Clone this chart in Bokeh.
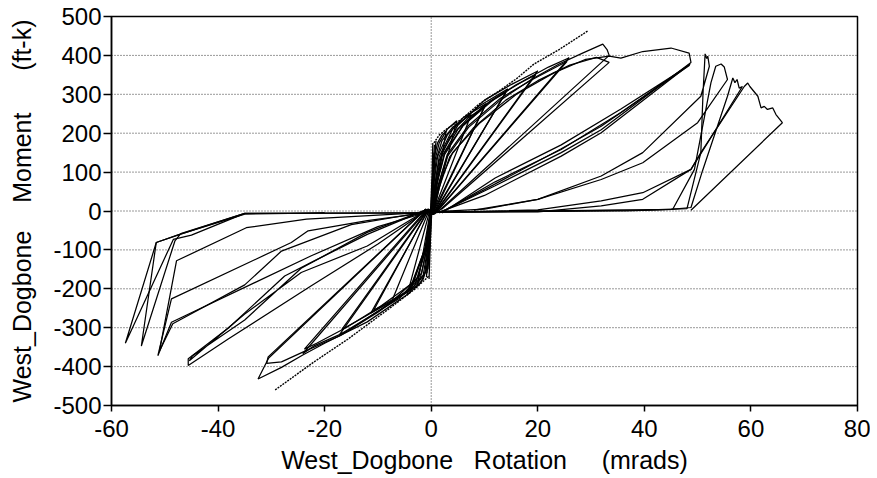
from bokeh.plotting import figure
from bokeh.embed import file_html
from bokeh.resources import INLINE
from bokeh.models import FixedTicker, Range1d, CustomJSTickFormatter

# ---------------- data (rotation in mrads, moment in ft-k) ----------------
x_ticks = [-60, -40, -20, 0, 20, 40, 60, 80]
y_ticks = [-500, -400, -300, -200, -100, 0, 100, 200, 300, 400, 500]
grid_y = [-400, -300, -200, -100, 0, 100, 200, 300, 400]

# small elastic cycles near the origin
loop_e1 = [(-0.6, -150), (-0.3, -70), (0.0, 0), (0.3, 90), (0.5, 150), (0.3, 100), (0.0, 20), (-0.3, -60), (-0.6, -150)]
loop_e2 = [(-0.9, -170), (-0.5, -110), (-0.1, -10), (0.2, 60), (0.6, 170), (0.4, 120), (0.1, 40), (-0.2, -40), (-0.9, -170)]
loop_e3 = [(-0.8, -160), (-0.2, -90), (0.0, -20), (0.1, 60), (0.3, 175), (0.2, 110), (-0.1, 0), (-0.3, -100), (-0.8, -160)]
loop_e4 = [(-0.4, -175), (-0.2, -80), (0.2, 20), (0.5, 110), (0.9, 180), (0.6, 140), (0.1, 30), (-0.4, -175)]

# positive half-cycles of growing amplitude
loop_p1 = [(0.0, -10), (0.3, 80), (0.6, 140), (1.2, 175), (2.0, 195), (2.8, 205), (0.2, -5)]
loop_p2 = [(0.0, -10), (0.3, 60), (0.7, 130), (1.5, 175), (3.0, 210), (4.8, 232), (0.3, -5)]
loop_p3 = [(0.1, -10), (0.4, 60), (0.9, 130), (2.0, 180), (4.0, 215), (7.5, 248), (0.3, -5)]
loop_p4 = [(0.1, -10), (0.5, 70), (1.2, 140), (3.0, 195), (6.0, 240), (10.3, 276), (0.3, -5)]
loop_p4b = [(0.1, -10), (0.6, 60), (1.5, 130), (3.5, 190), (7.0, 240), (10.0, 268), (0.4, -8)]
loop_p5 = [(0.2, -10), (0.6, 60), (1.5, 140), (4.0, 210), (9.0, 270), (14.4, 314), (0.4, -8)]
loop_p5b = [(0.2, -10), (0.8, 60), (2.0, 140), (5.0, 210), (10.0, 272), (14.0, 305), (0.5, -8)]
loop_p6 = [(0.2, -10), (0.8, 70), (2.0, 150), (5.0, 220), (10.0, 285), (15.0, 325), (20.0, 360), (0.5, -8)]
loop_p6b = [(0.3, -10), (1.0, 65), (2.5, 145), (6.0, 220), (11.0, 282), (16.0, 325), (19.6, 350), (0.6, -8)]
loop_p7 = [(0.3, -10), (1.0, 70), (2.5, 150), (6.0, 220), (12.0, 290), (18.0, 340), (22.0, 370), (25.9, 394), (0.6, -8)]
loop_p7b = [(0.3, -10), (1.3, 65), (3.0, 145), (7.0, 220), (13.0, 290), (19.0, 338), (25.5, 385), (0.8, -6)]
loop_p8 = [(0.3, -10), (1.2, 60), (3.0, 140), (7.0, 215), (13.0, 285), (19.0, 340), (24.0, 378), (28.4, 406), (32.2, 429), (33.0, 415), (33.4, 400), (1.0, -5)]
loop_p8b = [(0.4, -10), (1.5, 60), (3.5, 140), (8.0, 215), (14.0, 285), (20.0, 335), (26.0, 375), (31.0, 395), (33.4, 382), (1.9, 4)]

# large positive cycles
loop_b1 = [(0.4, -10), (1.5, 70), (4.0, 150), (9.0, 225), (16.0, 300), (23.0, 355), (29.0, 390), (33.4, 398),
           (35.6, 393), (39.7, 410), (45.0, 419), (48.4, 406), (48.75, 382), (31.9, 209), (24.4, 150), (12.0, 65), (2.0, -2)]
loop_b1b = [(2.0, -3), (12.0, 75), (24.4, 158), (35.6, 253), (48.6, 378), (31.9, 201), (24.4, 141), (10.0, 40), (1.5, -3)]
loop_b1c = [(2.0, -5), (12.0, 85), (24.4, 170), (35.6, 262), (48.5, 375), (31.9, 218), (24.4, 160), (10.0, 55), (1.5, -5)]
loop_b2 = [(0.0, -3), (20.0, -2), (31.9, 13), (39.7, 30), (48.75, 107), (50.6, 150), (51.0, 300), (51.4, 404),
           (51.7, 392), (51.9, 398), (52.2, 372), (50.6, 295), (39.7, 150), (31.9, 90), (20.0, 30), (10.0, 5), (0.0, -2)]
loop_b3 = [(0.0, -3), (36.6, 0), (45.3, 4), (49.4, 107), (52.5, 330), (53.4, 372), (54.4, 378), (55.0, 370),
           (55.6, 338), (50.0, 227), (39.7, 124), (31.9, 81), (20.0, 30), (8.0, 2)]
loop_b4 = [(0.0, -3), (45.0, 4), (48.75, 9), (50.9, 103), (55.6, 295), (56.6, 342), (57.0, 330), (57.4, 338),
           (57.8, 316), (58.4, 320), (53.0, 200), (48.75, 107), (39.7, 47), (31.9, 26), (20.0, 3), (5.0, -2)]
loop_b5 = [(0.0, -3), (40.0, 2), (48.0, 6), (50.6, 150), (58.75, 320), (59.4, 329), (59.8, 320), (61.3, 295),
           (61.9, 265), (62.5, 269), (63.1, 261), (64.1, 265), (64.7, 248), (65.9, 227), (48.75, 2)]

# negative half-cycles of growing amplitude
loop_n1 = [(0.0, 10), (-0.3, -80), (-0.7, -140), (-1.5, -175), (-2.6, -192), (-0.1, 5)]
loop_n2 = [(0.0, 10), (-0.4, -80), (-0.9, -150), (-2.0, -185), (-4.5, -215), (-0.2, 5)]
loop_n3 = [(0.0, 10), (-0.5, -80), (-1.2, -160), (-3.0, -195), (-7.5, -235), (-0.3, 5)]
loop_n4 = [(0.0, 10), (-0.6, -90), (-1.5, -165), (-4.0, -205), (-11.3, -262), (-0.4, 5)]
loop_n4b = [(0.0, 10), (-0.7, -85), (-1.8, -160), (-5.0, -210), (-10.8, -255), (-0.5, 5)]
loop_n5 = [(0.0, 10), (-0.7, -90), (-2.0, -170), (-6.0, -225), (-12.0, -275), (-17.2, -318), (-0.5, 5)]
loop_n5b = [(0.0, 10), (-0.9, -90), (-2.5, -170), (-7.0, -228), (-12.5, -272), (-16.8, -305), (-0.6, 5)]
loop_n6 = [(0.0, 10), (-0.8, -90), (-3.1, -192), (-9.4, -252), (-15.6, -308), (-21.9, -346), (-24.1, -367), (-0.6, 5)]
loop_n6b = [(0.0, 10), (-1.0, -90), (-3.5, -185), (-9.5, -245), (-16.0, -300), (-21.5, -340), (-23.8, -355), (-0.8, 5)]
loop_n7 = [(0.0, 10), (-1.0, -90), (-4.0, -200), (-10.0, -260), (-17.0, -320), (-24.0, -362), (-28.1, -388),
           (-30.9, -392), (-30.6, -375), (-1.0, 5)]
loop_n8 = [(0.0, 10), (-1.2, -100), (-4.0, -210), (-12.0, -285), (-20.0, -340), (-24.1, -370), (-28.1, -402),
           (-32.5, -432), (-30.5, -378), (-1.0, 5)]

# large negative cycles
loop_nb1 = [(-0.5, 5), (-10.0, -85), (-22.5, -192), (-38.1, -329), (-45.6, -397), (-45.6, -380), (-38.0, -300),
            (-27.5, -167), (-22.5, -132), (-12.0, -60), (-1.0, 3)]
loop_nb1b = [(-0.5, 5), (-12.0, -90), (-24.4, -158), (-35.0, -265), (-45.4, -385), (-44.8, -372), (-35.0, -280),
             (-24.4, -147), (-12.0, -55), (-1.0, 3)]
loop_nb2 = [(0.0, -3), (-12.0, -25), (-23.1, -51), (-26.25, -81), (-48.75, -226), (-51.3, -372), (-48.75, -286),
            (-22.5, -115), (-10.0, -40), (0.0, 0)]
loop_nb3 = [(0.0, -3), (-23.4, -21), (-34.7, -43), (-47.8, -128), (-51.0, -360), (-48.5, -290), (-35.0, -190),
            (-28.1, -103), (-15.0, -35), (0.0, 0)]
loop_nb4 = [(0.0, -5), (-35.0, -6), (-47.0, -58), (-48.1, -77), (-54.4, -347), (-51.6, -81), (-47.2, -60),
            (-35.0, -8), (-20.0, -5)]
loop_nb5 = [(0.0, -5), (-35.0, -6), (-47.2, -60), (-51.6, -81), (-57.4, -340), (-48.4, -73), (-45.0, -62),
            (-35.0, -6), (0.0, -5)]

# dotted envelopes
env_pos = [(0.5, 175), (1.5, 195), (3.0, 212), (5.6, 235), (9.0, 275), (13.1, 312), (16.0, 340), (19.3, 378), (24.0, 415), (29.4, 463)]
env_neg = [(-0.5, -168), (-3.0, -200), (-7.5, -247), (-15.6, -329), (-22.0, -388), (-29.4, -461)]

loops = [loop_e1, loop_e2, loop_e3, loop_e4,
         loop_p1, loop_p2, loop_p3, loop_p4, loop_p4b, loop_p5, loop_p5b, loop_p6, loop_p6b,
         loop_p7, loop_p7b, loop_p8, loop_p8b,
         loop_b1, loop_b1b, loop_b1c, loop_b2, loop_b3, loop_b4, loop_b5,
         loop_n1, loop_n2, loop_n3, loop_n4, loop_n4b, loop_n5, loop_n5b, loop_n6, loop_n6b, loop_n7, loop_n8,
         loop_nb1, loop_nb1b, loop_nb2, loop_nb3, loop_nb4, loop_nb5]

FONT = "Liberation Sans"
NB = "\u00a0"

p = figure(width=870, height=476, output_backend="svg", toolbar_location=None,
           x_range=Range1d(-60, 80), y_range=Range1d(-500, 500),
           min_border_left=111, min_border_right=13, min_border_top=16, min_border_bottom=70)
p.background_fill_color = "white"
p.border_fill_color = "white"
p.outline_line_color = "black"
p.outline_line_width = 1.5

p.xgrid.visible = False
p.ygrid.visible = False

# horizontal dotted grid lines and vertical zero line
for gy in grid_y:
    p.line(x=[-60, 80], y=[gy, gy], line_color="#333333", line_width=1, line_dash="1 2")
p.line(x=[0, 0], y=[-500, 500], line_color="#333333", line_width=1, line_dash="1 2")

xs = [[pt[0] for pt in lp] for lp in loops]
ys = [[pt[1] for pt in lp] for lp in loops]
p.multi_line(xs=xs, ys=ys, line_color="black", line_width=1.25)

for env in (env_pos, env_neg):
    p.line(x=[pt[0] for pt in env], y=[pt[1] for pt in env], line_color="black", line_width=1.4, line_dash="2 1")

fmt = CustomJSTickFormatter(code="return String(tick);")
for ax in (p.xaxis[0], p.yaxis[0]):
    ax.axis_line_color = "black"
    ax.axis_line_width = 1.5
    ax.major_tick_line_color = "black"
    ax.major_tick_line_width = 1.5
    ax.major_tick_in = 0
    ax.minor_tick_line_color = None
    ax.formatter = fmt
    ax.major_label_text_font = FONT
    ax.major_label_text_font_size = "24px"
    ax.major_label_text_color = "black"
    ax.axis_label_text_font = FONT
    ax.axis_label_text_font_size = "25px"
    ax.axis_label_text_font_style = "normal"
    ax.axis_label_text_color = "black"

p.xaxis.ticker = FixedTicker(ticks=x_ticks)
p.yaxis.ticker = FixedTicker(ticks=y_ticks)
p.xaxis.major_tick_out = 6
p.xaxis.major_label_standoff = 8
p.yaxis.major_tick_out = 8
p.yaxis.major_label_standoff = 2
p.xaxis.axis_label = "West_Dogbone" + NB * 3 + "Rotation" + NB * 5 + "(mrads)"
p.yaxis.axis_label = "West_Dogbone" + NB * 4 + "Moment" + NB * 6 + "(ft-k)"
p.xaxis.axis_label_standoff = 6
p.yaxis.axis_label_standoff = 14

open("out.html", "w").write(file_html(p, INLINE))
